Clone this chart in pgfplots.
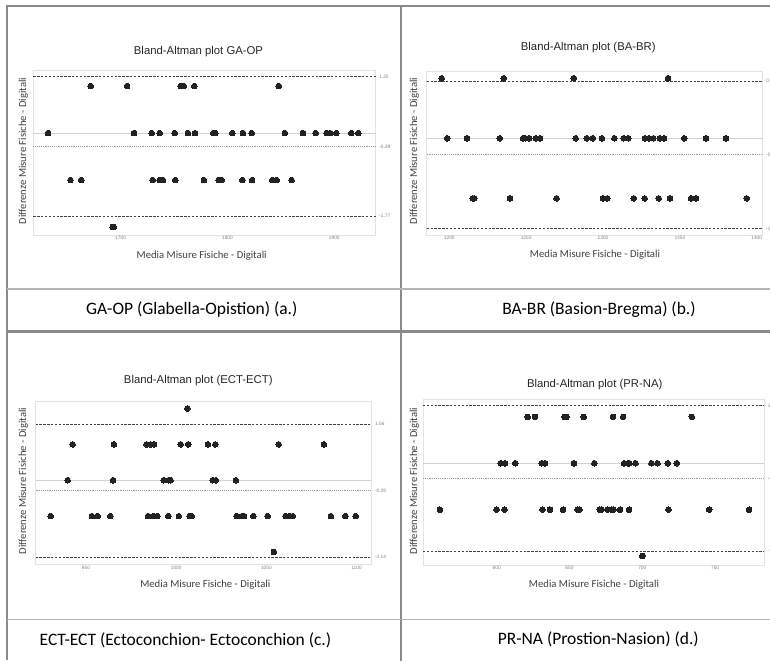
\documentclass[border=0pt]{standalone}
\usepackage{pgfplots}
\pgfplotsset{compat=1.18}
\usepackage{fontspec}
\setmainfont{Carlito}
\newfontfamily\arialf{Liberation Sans}
\definecolor{frame}{HTML}{8A8A8A}
\definecolor{framelight}{HTML}{B4B4B4}
\definecolor{dot}{HTML}{222222}
\newcommand{\tickf}{\arialf\fontsize{3.6}{4}\selectfont}
\newcommand{\titf}{\arialf\fontsize{8.5}{10}\selectfont}
\newcommand{\labf}{\fontsize{8}{9.6}\selectfont}
\newcommand{\capf}{\fontsize{13.1}{15.7}\selectfont}
\tikzset{
  pts/.style={only marks, mark=*, mark size=2.15pt, mark options={fill=dot, draw=dot, line width=0pt}},
  zl/.style={draw=gray!35, line width=0.75pt},
  loa/.style={draw=black!75, line width=0.7pt, dash pattern=on 1.8pt off 1.1pt},
  mn/.style={draw=gray!80, line width=0.6pt, dash pattern=on 0.6pt off 0.8pt},
  rl/.style={font=\tickf, text=gray, anchor=west, inner sep=0pt, xshift=2.5pt},
}
\pgfplotsset{
  ba/.style={
    scale only axis, clip=false,
    axis line style={draw=gray!22, line width=0.6pt},
    major tick length=0pt, ytick=\empty,
    tick label style={font=\tickf, text=gray},
    xticklabel style={inner sep=1pt},
    /pgf/number format/assume math mode=true,
    /pgf/number format/set thousands separator={},
  },
}
\begin{document}
\begin{tikzpicture}
\begin{scope}[x=0.75pt,y=-0.75pt]
  \coordinate (PA) at (33.3,235);
  \coordinate (PB) at (426.7,235);
  \coordinate (PC) at (35.5,564.5);
  \coordinate (PD) at (423,565);
  % frame
  \draw[line width=1.5pt, frame] (7,660) -- (7,5.8) -- (771,5.8);
  \draw[line width=1.5pt, frame] (400.5,5.8) -- (400.5,661);
  \draw[line width=1.9pt, frame] (7,331.3) -- (771,331.3);
  \draw[line width=1pt, framelight] (7,289) -- (771,289);
  \draw[line width=1pt, framelight] (7,619.3) -- (771,619.3);
  % titles
  \node[font=\titf, text=black!85] at (198.5,52) {Bland-Altman plot GA-OP};
  \node[font=\titf, text=black!85] at (588.3,48) {Bland-Altman plot (BA-BR)};
  \node[font=\titf, text=black!85] at (198.3,381) {Bland-Altman plot (ECT-ECT)};
  \node[font=\titf, text=black!85] at (594.7,385) {Bland-Altman plot (PR-NA)};
  % x labels
  \node[font=\labf, text=black!75] at (201.7,256) {Media Misure Fisiche - Digitali};
  \node[font=\labf, text=black!75] at (595,255) {Media Misure Fisiche - Digitali};
  \node[font=\labf, text=black!75] at (205.3,585) {Media Misure Fisiche - Digitali};
  \node[font=\labf, text=black!75] at (594,585) {Media Misure Fisiche - Digitali};
  % y labels
  \node[font=\labf, text=black!75, rotate=90] at (23.3,151) {Differenze Misure Fisiche - Digitali};
  \node[font=\labf, text=black!75, rotate=90] at (414.3,151) {Differenze Misure Fisiche - Digitali};
  \node[font=\labf, text=black!75, rotate=90] at (23.3,481) {Differenze Misure Fisiche - Digitali};
  \node[font=\labf, text=black!75, rotate=90] at (414.3,481) {Differenze Misure Fisiche - Digitali};
  % captions
  \node[font=\capf] at (191.8,310) {GA-OP (Glabella-Opistion) (a.)};
  \node[font=\capf] at (599,310) {BA-BR (Basion-Bregma) (b.)};
  \node[font=\capf] at (185.5,640) {ECT-ECT (Ectoconchion- Ectoconchion (c.)};
  \node[font=\capf] at (598.3,639.5) {PR-NA (Prostion-Nasion) (d.)};
\end{scope}

% ---------------- Panel a ----------------
\begin{axis}[ba, at={(PA)}, anchor=south west, width=256.8pt, height=123.2pt,
  xmin=1618.2, xmax=1938.8, ymin=-2.17, ymax=1.326, xtick={1700,1800,1900}]
  \addplot[zl] coordinates {(1618.2,0) (1938.8,0)};
  \addplot[loa] coordinates {(1618.2,1.20) (1938.8,1.20)};
  \addplot[loa] coordinates {(1618.2,-1.77) (1938.8,-1.77)};
  \addplot[mn] coordinates {(1618.2,-0.29) (1938.8,-0.29)};
  \addplot[pts] coordinates {(1672,1) (1706,1) (1756,1) (1759,1) (1769,1) (1848,1)};
  \addplot[pts] coordinates {(1632,0) (1712.5,0) (1729,0) (1736.5,0) (1750.5,0) (1763,0) (1769.6,0) (1786.7,0) (1788.6,0) (1804.5,0) (1814.5,0) (1822.6,0) (1853.8,0) (1870.7,0) (1882.5,0) (1892.8,0) (1896,0) (1902,0) (1916,0) (1922.5,0)};
  \addplot[pts] coordinates {(1653,-1) (1663,-1) (1730,-1) (1736.5,-1) (1739.6,-1) (1751,-1) (1778,-1) (1791.7,-1) (1794.5,-1) (1814,-1) (1823,-1) (1842,-1) (1846,-1) (1860,-1)};
  \addplot[pts] coordinates {(1692.5,-2) (1693.5,-2)};
  \node[rl] at (axis cs:1938.8,1.20) {1.20};
  \node[rl] at (axis cs:1938.8,-0.29) {-0.29};
  \node[rl] at (axis cs:1938.8,-1.77) {-1.77};
\end{axis}

% ---------------- Panel b ----------------
\begin{axis}[ba, at={(PB)}, anchor=south west, width=252pt, height=123pt,
  xmin=1185.3, xmax=1403.9, ymin=-1.61, ymax=1.12, xtick={1200,1250,1300,1350,1400}]
  \addplot[zl] coordinates {(1185.3,0) (1403.9,0)};
  \addplot[loa] coordinates {(1185.3,0.95) (1403.9,0.95)};
  \addplot[loa] coordinates {(1185.3,-1.50) (1403.9,-1.50)};
  \addplot[mn] coordinates {(1185.3,-0.27) (1403.9,-0.27)};
  \addplot[pts] coordinates {(1195,1) (1235.4,1) (1280.9,1) (1342.3,1)};
  \addplot[pts] coordinates {(1198.7,0) (1211.5,0) (1232.8,0) (1248,0) (1249.5,0) (1252,0) (1256.2,0) (1259,0) (1282.2,0) (1289.4,0) (1293.3,0) (1299.3,0) (1307.4,0) (1313.4,0) (1316.5,0) (1327.3,0) (1329.7,0) (1332.8,0) (1336.9,0) (1339.7,0) (1352.9,0) (1367,0) (1380,0)};
  \addplot[pts] coordinates {(1215.2,-1) (1216.3,-1) (1239.5,-1) (1269.8,-1) (1300,-1) (1302.8,-1) (1320,-1) (1327.1,-1) (1336.2,-1) (1343.6,-1) (1357.3,-1) (1360.5,-1) (1393.5,-1)};
  \node[rl] at (axis cs:1403.9,0.95) {0.95};
  \node[rl] at (axis cs:1403.9,-0.27) {-0.27};
  \node[rl] at (axis cs:1403.9,-1.50) {-1.50};
\end{axis}

% ---------------- Panel c ----------------
\begin{axis}[ba, at={(PC)}, anchor=south west, width=252pt, height=122.1pt,
  xmin=922, xmax=1108.3, ymin=-2.35, ymax=2.19, xtick={950,1000,1050,1100}]
  \addplot[zl] coordinates {(922,0) (1108.3,0)};
  \addplot[loa] coordinates {(922,1.56) (1108.3,1.56)};
  \addplot[loa] coordinates {(922,-2.14) (1108.3,-2.14)};
  \addplot[mn] coordinates {(922,-0.29) (1108.3,-0.29)};
  \addplot[pts] coordinates {(1006.2,2)};
  \addplot[pts] coordinates {(942.6,1) (965.5,1) (983.6,1) (985.8,1) (987.7,1) (1002.5,1) (1006.7,1) (1017.6,1) (1021.7,1) (1056.8,1) (1081.9,1)};
  \addplot[pts] coordinates {(939.8,0) (965,0) (993,0) (995.8,0) (996.9,0) (1020.2,0) (1022,0) (1033.1,0)};
  \addplot[pts] coordinates {(930.4,-1) (953.3,-1) (956.5,-1) (963.5,-1) (984.4,-1) (987.5,-1) (989.5,-1) (995.6,-1) (1001.5,-1) (1007.5,-1) (1008.6,-1) (1033.5,-1) (1036.5,-1) (1037.6,-1) (1042.7,-1) (1050.7,-1) (1060.7,-1) (1062.7,-1) (1064.7,-1) (1085.8,-1) (1093.7,-1) (1099.6,-1)};
  \addplot[pts] coordinates {(1054.2,-2)};
  \node[rl] at (axis cs:1108.3,1.56) {1.56};
  \node[rl] at (axis cs:1108.3,-0.29) {-0.29};
  \node[rl] at (axis cs:1108.3,-2.14) {-2.14};
\end{axis}

% ---------------- Panel d ----------------
\begin{axis}[ba, at={(PD)}, anchor=south west, width=256pt, height=124.3pt,
  xmin=549.4, xmax=783.8, ymin=-2.195, ymax=1.38, xtick={600,650,700,750}]
  \addplot[zl] coordinates {(549.4,0) (783.8,0)};
  \addplot[loa] coordinates {(549.4,1.24) (783.8,1.24)};
  \addplot[loa] coordinates {(549.4,-1.90) (783.8,-1.90)};
  \addplot[mn] coordinates {(549.4,-0.33) (783.8,-0.33)};
  \addplot[pts] coordinates {(621.3,1) (626.3,1) (646.5,1) (647.9,1) (659.8,1) (679.9,1) (686.8,1) (734,1)};
  \addplot[pts] coordinates {(602.7,0) (605.7,0) (612.8,0) (630.9,0) (633.2,0) (653.1,0) (667.1,0) (687.5,0) (690.2,0) (691.1,0) (695.3,0) (706.3,0) (710.4,0) (717.5,0) (723.7,0)};
  \addplot[pts] coordinates {(561,-1) (600,-1) (605.3,-1) (631.4,-1) (636.6,-1) (645.6,-1) (655.6,-1) (656.8,-1) (670.8,-1) (671.9,-1) (676,-1) (679,-1) (680.1,-1) (684.7,-1) (690.9,-1) (717.9,-1) (745.9,-1) (773.3,-1)};
  \addplot[pts] coordinates {(700,-2)};
  \node[rl] at (axis cs:783.8,1.24) {1.24};
  \node[rl] at (axis cs:783.8,-0.33) {-0.33};
  \node[rl] at (axis cs:783.8,-1.90) {-1.90};
\end{axis}

\pgfresetboundingbox
\begin{scope}[x=0.75pt,y=-0.75pt]
  \path[use as bounding box] (0,0) rectangle (770,660);
\end{scope}
\end{tikzpicture}
\end{document}
